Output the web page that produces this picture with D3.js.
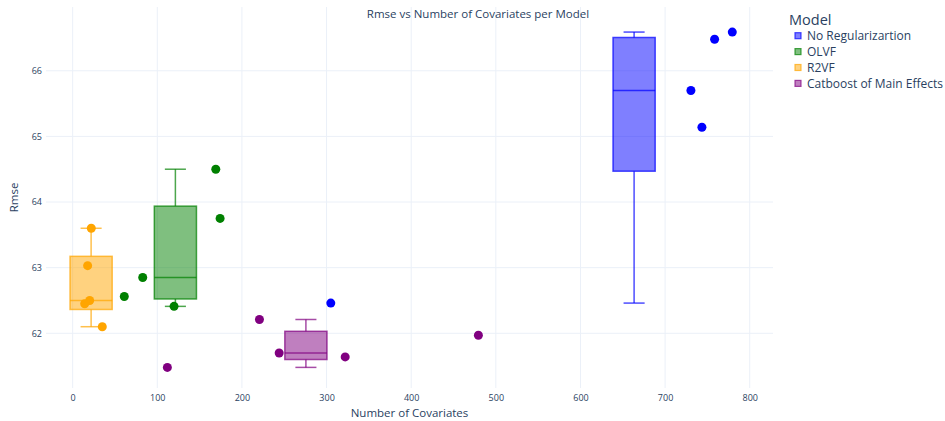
<!DOCTYPE html>
<html><head><meta charset="utf-8">
<script src="https://cdn.jsdelivr.net/npm/d3@7"></script>
<style>body{margin:0;background:#fff}svg{display:block;font-family:"Open Sans",sans-serif}</style>
</head><body><svg id="c" width="945" height="421"></svg>
<script>
// ---- data ----
const models = ["No Regularizartion", "OLVF", "R2VF", "Catboost of Main Effects"];
const colors = ["#0000FF", "#008000", "#FFA500", "#800080"];
const noRegX = [758.5, 779.4, 730.5, 743.5, 305];
const noRegY = [66.48, 66.59, 65.70, 65.14, 62.46];
const olvfX = [169.1, 174.2, 82.8, 61, 119.8];
const olvfY = [64.50, 63.75, 62.85, 62.56, 62.41];
const r2vfX = [22, 17.7, 20.1, 14.2, 35];
const r2vfY = [63.60, 63.03, 62.50, 62.45, 62.10];
const catX = [220.7, 244, 322, 479.4, 111.9];
const catY = [62.21, 61.70, 61.64, 61.97, 61.48];
const xTicks = [0, 100, 200, 300, 400, 500, 600, 700, 800];
const yTicks = [62, 63, 64, 65, 66];
const xDomain = [-31.5, 827.5];
const yDomain = [61.166, 66.972];
const title = "Rmse vs Number of Covariates per Model";
const xTitle = "Number of Covariates";
const yTitle = "Rmse";
const legendTitle = "Model";

const seriesX = [noRegX, olvfX, r2vfX, catX];
const seriesY = [noRegY, olvfY, r2vfY, catY];

// ---- layout ----
const M = {l: 46, r: 773, t: 7, b: 388};
const svg = d3.select("#c");
const x = d3.scaleLinear().domain(xDomain).range([M.l, M.r]);
const y = d3.scaleLinear().domain(yDomain).range([M.b, M.t]);
const textCol = "#2a3f5f", gridCol = "#EBF0F8";

// grid
svg.append("g").selectAll("line").data(xTicks).join("line")
  .attr("x1", d => x(d)).attr("x2", d => x(d)).attr("y1", M.t).attr("y2", M.b)
  .attr("stroke", gridCol).attr("stroke-width", 1);
svg.append("g").selectAll("line").data(yTicks).join("line")
  .attr("x1", M.l).attr("x2", M.r).attr("y1", d => y(d)).attr("y2", d => y(d))
  .attr("stroke", gridCol).attr("stroke-width", 1);

// axes (labels only, via d3 axes)
const xAxis = svg.append("g").attr("transform", `translate(0,${M.b})`)
  .call(d3.axisBottom(x).tickValues(xTicks).tickFormat(d3.format("d")).tickSize(0).tickPadding(7));
const yAxis = svg.append("g").attr("transform", `translate(${M.l},0)`)
  .call(d3.axisLeft(y).tickValues(yTicks).tickFormat(d3.format("d")).tickSize(0).tickPadding(4));
[xAxis, yAxis].forEach(g => {
  g.select(".domain").remove();
  g.selectAll("text").attr("fill", textCol).style("font-size", "9px").style("font-family", "'Open Sans',sans-serif");
});

// quartiles (linear method)
function quant(sorted, p) {
  const n = sorted.length;
  let pos = p * n - 0.5;
  pos = Math.max(0, Math.min(n - 1, pos));
  const lo = Math.floor(pos), hi = Math.ceil(pos);
  return sorted[lo] + (pos - lo) * (sorted[hi] - sorted[lo]);
}
const positions = seriesX.map(a => d3.mean(a));
const sortedPos = positions.slice().sort((a, b) => a - b);
let minGap = Infinity;
for (let i = 1; i < sortedPos.length; i++) minGap = Math.min(minGap, sortedPos[i] - sortedPos[i - 1]);
const boxW = 0.5 * minGap;

const boxes = svg.append("g");
models.forEach((m, i) => {
  const s = seriesY[i].slice().sort((a, b) => a - b);
  const q1 = quant(s, 0.25), med = quant(s, 0.5), q3 = quant(s, 0.75);
  const iqr = q3 - q1;
  const lo = d3.min(s.filter(v => v >= q1 - 1.5 * iqr));
  const hi = d3.max(s.filter(v => v <= q3 + 1.5 * iqr));
  const c = colors[i], p = positions[i];
  const g = boxes.append("g").attr("stroke", c).attr("stroke-opacity", 0.7).attr("stroke-width", 1.5);
  g.append("rect").attr("x", x(p - boxW / 2)).attr("width", x(p + boxW / 2) - x(p - boxW / 2))
    .attr("y", y(q3)).attr("height", y(q1) - y(q3)).attr("fill", c).attr("fill-opacity", 0.5);
  g.append("line").attr("x1", x(p - boxW / 2)).attr("x2", x(p + boxW / 2)).attr("y1", y(med)).attr("y2", y(med));
  g.append("line").attr("x1", x(p)).attr("x2", x(p)).attr("y1", y(q3)).attr("y2", y(hi));
  g.append("line").attr("x1", x(p)).attr("x2", x(p)).attr("y1", y(q1)).attr("y2", y(lo));
  g.append("line").attr("x1", x(p - boxW / 4)).attr("x2", x(p + boxW / 4)).attr("y1", y(hi)).attr("y2", y(hi));
  g.append("line").attr("x1", x(p - boxW / 4)).attr("x2", x(p + boxW / 4)).attr("y1", y(lo)).attr("y2", y(lo));
});

// points
const pts = svg.append("g");
models.forEach((m, i) => {
  pts.append("g").selectAll("circle").data(seriesX[i].map((v, j) => [v, seriesY[i][j]])).join("circle")
    .attr("cx", d => x(d[0])).attr("cy", d => y(d[1])).attr("r", 4.5).attr("fill", colors[i]);
});

// titles
svg.append("text").attr("x", 478).attr("y", 18).attr("text-anchor", "middle")
  .attr("fill", textCol).style("font-size", "11.5px").text(title);
svg.append("text").attr("x", (M.l + M.r) / 2).attr("y", 417).attr("text-anchor", "middle")
  .attr("fill", textCol).style("font-size", "11.5px").text(xTitle);
svg.append("text").attr("transform", `translate(18,${(M.t + M.b) / 2}) rotate(-90)`).attr("text-anchor", "middle")
  .attr("fill", textCol).style("font-size", "11.5px").text(yTitle);

// legend
const lg = svg.append("g");
lg.append("text").attr("x", 789).attr("y", 25).attr("fill", textCol).style("font-size", "14.5px").text(legendTitle);
models.forEach((m, i) => {
  const cy = 35.7 + i * 15.9;
  lg.append("rect").attr("x", 795).attr("y", cy - 3).attr("width", 6).attr("height", 6)
    .attr("fill", colors[i]).attr("fill-opacity", 0.5).attr("stroke", colors[i]).attr("stroke-opacity", 0.7).attr("stroke-width", 1.2);
  lg.append("text").attr("x", 807).attr("y", cy + 4.3).attr("fill", textCol).style("font-size", "12px").text(m);
});
</script></body></html>
